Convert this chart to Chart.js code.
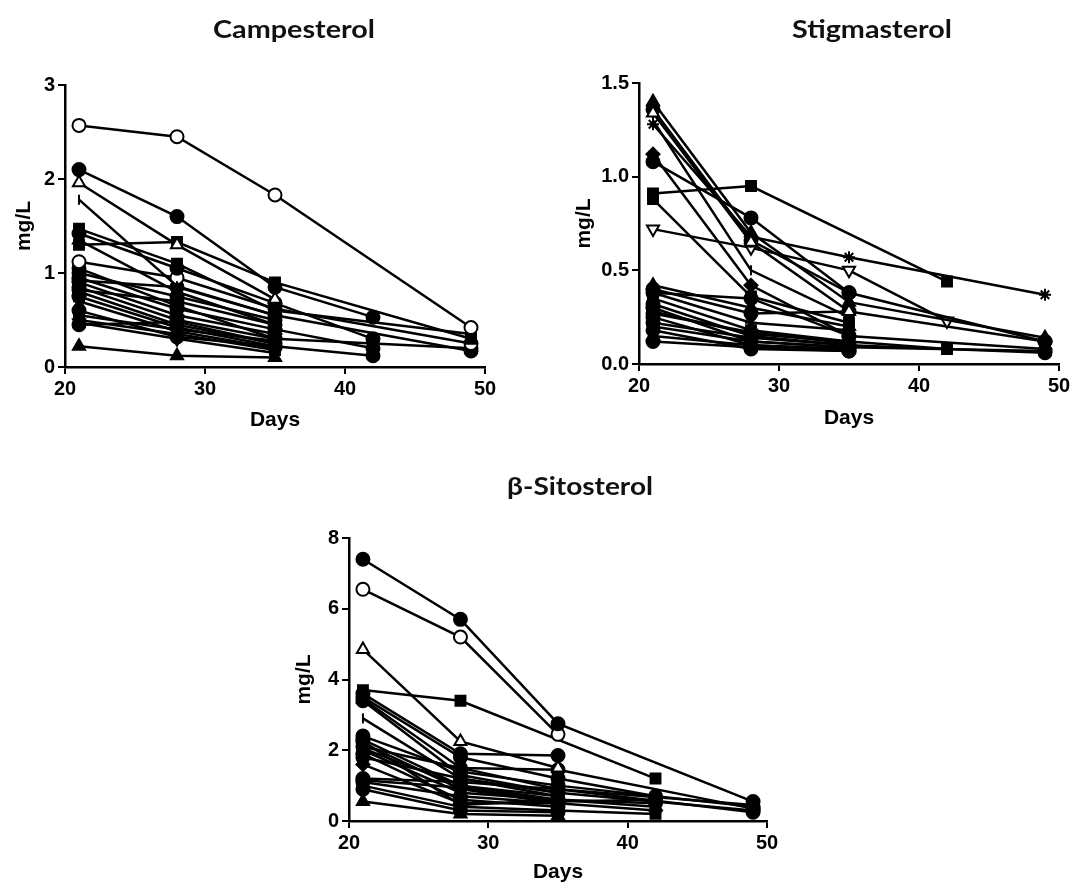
<!DOCTYPE html>
<html>
<head>
<meta charset="utf-8">
<script src="https://cdn.jsdelivr.net/npm/chart.js"></script>
<style>
  html, body { margin: 0; padding: 0; background: #fff; overflow: hidden; width: 1075px; height: 889px; }
  canvas { position: absolute; }
</style>
</head>
<body>
<canvas id="campesterol"></canvas>
<canvas id="stigmasterol"></canvas>
<canvas id="sitosterol"></canvas>
<script>
// sampling days, one value per day (null = not sampled)
const days = [21, 28, 35, 42, 49];
const xTicks = [20, 30, 40, 50];

// Campesterol, mg/L
const campesterolSeries = [
  [2.57, 2.45, 1.83, null, 0.42],
  [2.10, 1.60, 0.85, 0.53, null],
  [1.96, 1.30, 0.72, null, null],
  [1.78, 0.86, 0.55, null, null],
  [1.47, 1.10, 0.60, null, 0.35],
  [1.30, 1.33, 0.90, null, 0.30],
  [1.42, 1.05, 0.68, 0.30, null],
  [1.35, 0.80, 0.45, null, null],
  [1.12, 0.95, 0.62, null, 0.25],
  [1.00, 0.75, 0.50, null, null],
  [0.95, 0.62, 0.40, 0.20, null],
  [0.90, 0.55, 0.35, null, null],
  [0.85, 0.50, 0.30, null, 0.20],
  [0.80, 0.45, 0.25, null, null],
  [0.75, 0.42, 0.22, 0.12, null],
  [0.70, 0.38, 0.20, null, null],
  [0.92, 0.85, 0.55, null, 0.17],
  [0.55, 0.40, 0.28, null, null],
  [0.50, 0.35, 0.18, null, null],
  [0.47, 0.30, 0.15, null, null],
  [0.45, 0.48, 0.25, null, null],
  [0.22, 0.12, 0.10, null, null],
  [1.05, 0.65, 0.30, null, null],
  [0.82, 0.70, 0.45, null, null],
  [0.60, 0.32, 0.22, null, null]
];
const campesterolMarkers = [
  'circleOpen', 'circle', 'triangleOpen', 'line', 'rect', 'rect', 'circle', 'triangle',
  'circleOpen', 'circle', 'circle', 'rectRot', 'circle', 'triangle', 'circle', 'star',
  'circle', 'rect', 'rect', 'triangleDown', 'circle', 'triangle', 'circle', 'circle', 'circle'
];
const campesterolTicks = [0, 1, 2, 3];
const campesterolTickLabels = ['0', '1', '2', '3'];

// Stigmasterol, mg/L
const stigmasterolSeries = [
  [1.40, 0.70, 0.33, null, 0.14],
  [1.34, 0.65, 0.28, null, null],
  [1.30, 0.50, 0.25, null, null],
  [1.36, 0.66, 0.38, null, 0.12],
  [1.08, 0.78, 0.38, null, null],
  [1.12, 0.42, 0.15, null, 0.08],
  [0.91, 0.95, null, 0.44, null],
  [0.88, 0.36, 0.22, null, null],
  [0.72, 0.62, 0.50, 0.23, null],
  [1.28, 0.68, 0.57, null, 0.37],
  [0.42, 0.30, 0.20, null, null],
  [0.40, 0.27, 0.28, null, 0.12],
  [0.38, 0.35, 0.15, null, null],
  [0.35, 0.18, 0.12, 0.08, null],
  [0.32, 0.15, 0.10, null, null],
  [0.30, 0.12, 0.09, null, 0.07],
  [0.28, 0.16, 0.12, null, null],
  [0.25, 0.10, 0.08, null, null],
  [0.22, 0.14, 0.10, null, 0.06],
  [0.20, 0.12, 0.09, null, null],
  [0.18, 0.08, 0.07, null, null],
  [0.15, 0.10, 0.08, null, null],
  [0.12, 0.09, 0.07, null, null],
  [0.38, 0.22, 0.18, null, null],
  [0.27, 0.17, 0.11, null, null]
];
const stigmasterolMarkers = [
  'triangle', 'triangleOpen', 'line', 'circle', 'circle', 'rectRot', 'rect', 'rect',
  'triangleDownOpen', 'star', 'triangle', 'circle', 'circle', 'rect', 'circle', 'circle',
  'triangleDown', 'circle', 'circle', 'rect', 'circle', 'triangle', 'circle', 'star', 'circle'
];
const stigmasterolTicks = [0, 0.5, 1, 1.5];
const stigmasterolTickLabels = ['0.0', '0.5', '1.0', '1.5'];

// beta-Sitosterol, mg/L
const sitosterolSeries = [
  [7.40, 5.70, 2.75, null, 0.55],
  [6.55, 5.20, 2.45, null, null],
  [4.85, 2.25, 1.50, null, null],
  [3.70, 3.40, null, 1.20, null],
  [3.60, 1.90, 1.85, null, null],
  [3.50, 1.80, 1.20, 0.70, null],
  [3.45, 1.50, 0.90, null, 0.45],
  [3.40, 1.30, 0.80, null, null],
  [2.90, 1.20, 0.70, null, null],
  [2.40, 1.40, 1.00, null, 0.40],
  [2.30, 1.00, 0.60, 0.50, null],
  [2.20, 0.90, 0.50, null, null],
  [2.10, 1.50, 1.45, null, 0.35],
  [2.00, 0.80, 0.60, 0.40, null],
  [1.90, 0.60, 0.40, null, null],
  [1.80, 1.20, 0.80, null, 0.30],
  [1.60, 0.50, 0.50, 0.30, null],
  [2.25, 0.45, 0.60, null, null],
  [1.20, 1.10, 0.90, null, 0.25],
  [1.10, 0.70, 0.50, null, null],
  [1.00, 0.40, 0.30, 0.20, null],
  [0.90, 0.30, 0.25, null, null],
  [0.55, 0.20, 0.15, null, null],
  [1.15, 0.95, 0.55, 0.60, null],
  [2.05, 1.00, 0.70, null, null]
];
const sitosterolMarkers = [
  'circle', 'circleOpen', 'triangleOpen', 'rect', 'circle', 'circle', 'triangle', 'circle',
  'line', 'circle', 'circle', 'rect', 'circle', 'triangle', 'circle', 'circle',
  'rectRot', 'circle', 'circle', 'circle', 'rect', 'circle', 'triangle', 'circle', 'star'
];
const sitosterolTicks = [0, 2, 4, 6, 8];
const sitosterolTickLabels = ['0', '2', '4', '6', '8'];

const axisFont = { family: 'Liberation Sans', weight: 'bold', size: 20 };
const axisTitleFont = { family: 'Liberation Sans', weight: 'bold', size: 21 };

// page layout, absolute pixels
const panels = [
  { id: 'campesterol', title: 'Campesterol', rows: campesterolSeries, markers: campesterolMarkers,
    ticks: campesterolTicks, labels: campesterolTickLabels, yMax: 3,
    canvasLeft: 0, canvasTop: 0, canvasW: 560, canvasH: 440,
    plotLeft: 65, plotRight: 485, plotTop: 85, plotBottom: 367,
    titleX: 294, titleY: 30, titleW: 162, daysY: 420, mgX: 24 },
  { id: 'stigmasterol', title: 'Stigmasterol', rows: stigmasterolSeries, markers: stigmasterolMarkers,
    ticks: stigmasterolTicks, labels: stigmasterolTickLabels, yMax: 1.5,
    canvasLeft: 560, canvasTop: 0, canvasW: 515, canvasH: 440,
    plotLeft: 639, plotRight: 1059, plotTop: 83, plotBottom: 364,
    titleX: 872, titleY: 30, titleW: 160, daysY: 418, mgX: 584 },
  { id: 'sitosterol', title: 'β-Sitosterol', rows: sitosterolSeries, markers: sitosterolMarkers,
    ticks: sitosterolTicks, labels: sitosterolTickLabels, yMax: 8,
    canvasLeft: 284, canvasTop: 450, canvasW: 560, canvasH: 439,
    plotLeft: 349, plotRight: 767, plotTop: 538, plotBottom: 821,
    titleX: 580, titleY: 487, titleW: 146, daysY: 872, mgX: 304 }
];

// Calibri-like bold title, stretched to the width it has in the figure
const panelTitle = {
  id: 'panelTitle',
  afterDraw(chart, args, opts) {
    const ctx = chart.ctx;
    ctx.save();
    ctx.font = 'bold 24px Lato';
    ctx.fillStyle = '#111';
    ctx.textAlign = 'center';
    ctx.textBaseline = 'middle';
    const w = ctx.measureText(opts.text).width;
    ctx.translate(opts.x, opts.y);
    ctx.scale(opts.width / w, 1);
    ctx.fillText(opts.text, 0, 0);
    ctx.restore();
  }
};

function toPoints(row) {
  return row.map((v, i) => (v === null ? null : { x: days[i], y: v })).filter(p => p);
}

function markerOptions(name) {
  const open = name.endsWith('Open');
  let style = open ? name.slice(0, -4) : name;
  let rotation = 0;
  if (style === 'triangleDown') { style = 'triangle'; rotation = 180; }
  if (style === 'line') rotation = 90;
  let radius = 6.5;
  if (style === 'rect') radius = 7;
  if (style === 'triangle') radius = 7;
  if (style === 'line') radius = 5;
  if (style === 'star') radius = 6;
  return {
    pointStyle: style,
    pointRotation: rotation,
    pointRadius: radius,
    pointBackgroundColor: open ? '#fff' : '#000',
    pointBorderColor: '#000',
    pointBorderWidth: 2
  };
}

panels.forEach(p => {
  const canvas = document.getElementById(p.id);
  canvas.width = p.canvasW;
  canvas.height = p.canvasH;
  canvas.style.left = p.canvasLeft + 'px';
  canvas.style.top = p.canvasTop + 'px';

  const axisLH = axisTitleFont.size * 1.2;

  const datasets = p.rows.map((row, i) => Object.assign({
    data: toPoints(row),
    borderColor: '#000',
    borderWidth: 2.5,
    tension: 0,
    fill: false
  }, markerOptions(p.markers[i])));

  new Chart(canvas, {
    type: 'line',
    data: { datasets },
    plugins: [panelTitle],
    options: {
      responsive: false,
      animation: false,
      devicePixelRatio: 1,
      layout: {
        padding: {
          left: 0,
          top: p.plotTop - p.canvasTop,
          right: p.canvasLeft + p.canvasW - p.plotRight,
          bottom: 0
        }
      },
      plugins: {
        legend: { display: false },
        tooltip: { enabled: false },
        title: { display: false },
        panelTitle: {
          text: p.title,
          x: p.titleX - p.canvasLeft,
          y: p.titleY - p.canvasTop,
          width: p.titleW
        }
      },
      scales: {
        x: {
          type: 'linear',
          min: 20,
          max: 50,
          afterBuildTicks: s => { s.ticks = xTicks.map(v => ({ value: v })); },
          afterFit: s => { s.height = p.canvasTop + p.canvasH - p.plotBottom; },
          grid: { display: true, drawOnChartArea: false, drawTicks: true, tickLength: 7, color: '#000', lineWidth: 2 },
          border: { display: true, color: '#000', width: 2.5 },
          ticks: { color: '#000', font: axisFont, padding: 3, maxRotation: 0, autoSkip: false },
          title: {
            display: true, text: 'Days', color: '#000', font: axisTitleFont,
            padding: { top: 0, bottom: p.canvasTop + p.canvasH - p.daysY - axisLH / 2 }
          }
        },
        y: {
          type: 'linear',
          min: 0,
          max: p.yMax,
          afterBuildTicks: s => { s.ticks = p.ticks.map(v => ({ value: v })); },
          afterFit: s => { s.width = p.plotLeft - p.canvasLeft; },
          grid: { display: true, drawOnChartArea: false, drawTicks: true, tickLength: 7, color: '#000', lineWidth: 2 },
          border: { display: true, color: '#000', width: 2.5 },
          ticks: {
            color: '#000', font: axisFont, padding: 3, autoSkip: false,
            callback: (v, i) => p.labels[i]
          },
          title: {
            display: true, text: 'mg/L', color: '#000', font: axisTitleFont,
            padding: { top: p.mgX - p.canvasLeft - axisLH / 2, bottom: 0 }
          }
        }
      }
    }
  });
});
</script>
</body>
</html>
